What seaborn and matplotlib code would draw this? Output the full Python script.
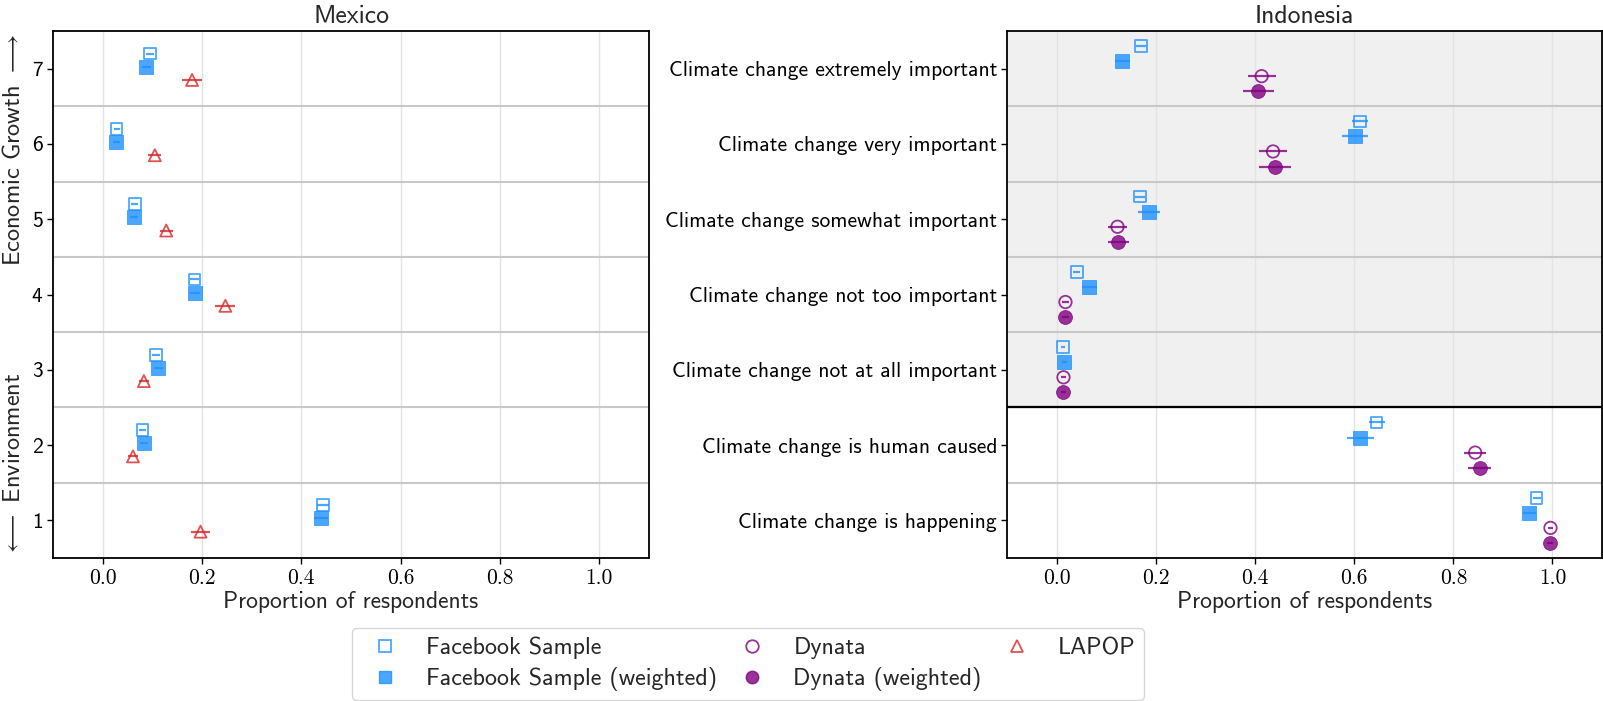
import numpy as np
import pandas as pd
import matplotlib
matplotlib.use("Agg")
import matplotlib.pyplot as plt
from matplotlib.lines import Line2D
import seaborn as sns

# ---------------- data ----------------
# Mexico: rows 7 (top, economic growth) ... 1 (bottom, environment)
mx_rows = [7, 6, 5, 4, 3, 2, 1]
mx_fb = [0.095, 0.028, 0.065, 0.185, 0.108, 0.080, 0.443]
mx_fb_err = [0.008, 0.006, 0.007, 0.009, 0.008, 0.007, 0.012]
mx_fbw = [0.088, 0.027, 0.064, 0.185, 0.112, 0.084, 0.440]
mx_fbw_err = [0.009, 0.007, 0.008, 0.010, 0.009, 0.008, 0.014]
mx_lapop = [0.180, 0.105, 0.128, 0.247, 0.083, 0.061, 0.197]
mx_lapop_err = [0.021, 0.013, 0.013, 0.020, 0.010, 0.010, 0.019]

# Indonesia
id_labels = ["Climate change extremely important",
             "Climate change very important",
             "Climate change somewhat important",
             "Climate change not too important",
             "Climate change not at all important",
             "Climate change is human caused",
             "Climate change is happening"]
id_rows = [7, 6, 5, 4, 3, 2, 1]
id_fb = [0.169, 0.612, 0.168, 0.040, 0.012, 0.645, 0.968]
id_fb_err = [0.010, 0.016, 0.010, 0.007, 0.004, 0.016, 0.008]
id_fbw = [0.132, 0.601, 0.186, 0.065, 0.015, 0.612, 0.953]
id_fbw_err = [0.016, 0.026, 0.022, 0.015, 0.006, 0.027, 0.013]
id_dyn = [0.413, 0.436, 0.122, 0.017, 0.013, 0.844, 0.996]
id_dyn_err = [0.028, 0.029, 0.019, 0.008, 0.006, 0.022, 0.006]
id_dynw = [0.406, 0.440, 0.124, 0.017, 0.013, 0.853, 0.995]
id_dynw_err = [0.031, 0.033, 0.022, 0.008, 0.006, 0.023, 0.006]

BLUE = "#1E90FF"
PURPLE = "#800080"
RED = "#D62728"
ALPHA = 0.8

sns.set_theme(style="white")
plt.rcParams["font.family"] = ["cmss10", "DejaVu Sans"]
plt.rcParams["mathtext.fontset"] = "cm"
plt.rcParams["axes.unicode_minus"] = False

fig = plt.figure(figsize=(16.03, 7.01), dpi=100)
ax1 = fig.add_axes([53 / 1603, 1 - 558 / 701, 596 / 1603, 527 / 701])
ax2 = fig.add_axes([1007.5 / 1603, 1 - 558 / 701, 594.5 / 1603, 527 / 701])


def series(ax, xs, errs, ys, color, marker, filled, size):
    ax.errorbar(xs, ys, xerr=errs, fmt="none", ecolor=color, elinewidth=1.6,
                alpha=ALPHA, zorder=3)
    df = pd.DataFrame({"x": xs, "y": ys})
    if filled:
        sns.scatterplot(data=df, x="x", y="y", ax=ax, marker=marker, s=size,
                        color=color, edgecolor=color, linewidth=0.6,
                        alpha=ALPHA, zorder=4, legend=False)
    else:
        sns.scatterplot(data=df, x="x", y="y", ax=ax, marker=marker, s=size,
                        color=color, facecolor="none", edgecolor=color,
                        linewidth=1.3, alpha=ALPHA, zorder=4, legend=False)


def style_axis(ax):
    ax.set_xlim(-0.1, 1.1)
    ax.set_ylim(0.5, 7.5)
    xt = [0.0, 0.2, 0.4, 0.6, 0.8, 1.0]
    ax.set_xticks(xt)
    ax.set_xticklabels([f"{v:.1f}" for v in xt], fontfamily="cmr10", fontsize=16)
    for v in xt:
        ax.axvline(v, color="#e3e3e3", lw=1.0, zorder=1)
    for h in [1.5, 2.5, 3.5, 4.5, 5.5, 6.5]:
        ax.axhline(h, color="#c8c8c8", lw=1.5, zorder=1)
    for s in ax.spines.values():
        s.set_color("black")
        s.set_linewidth(1.3)
    ax.tick_params(axis="both", direction="out", length=4, width=1, colors="black",
                   labelsize=15.5, bottom=True, left=True)
    ax.set_xlabel("Proportion of respondents", fontsize=17, labelpad=2)
    ax.set_ylabel("")


# Mexico
series(ax1, mx_fb, mx_fb_err, [r + 0.2 for r in mx_rows], BLUE, "s", False, 70)
series(ax1, mx_fbw, mx_fbw_err, [r + 0.025 for r in mx_rows], BLUE, "s", True, 90)
series(ax1, mx_lapop, mx_lapop_err, [r - 0.15 for r in mx_rows], RED, "^", False, 75)
style_axis(ax1)
ax1.set_yticks(mx_rows)
ax1.set_yticklabels([str(r) for r in mx_rows])
ax1.set_title("Mexico", fontsize=18.5, pad=6)

# Indonesia
ax2.axhspan(2.5, 7.5, color="#f0f0f0", zorder=0)
series(ax2, id_fb, id_fb_err, [r + 0.3 for r in id_rows], BLUE, "s", False, 70)
series(ax2, id_fbw, id_fbw_err, [r + 0.1 for r in id_rows], BLUE, "s", True, 90)
series(ax2, id_dyn, id_dyn_err, [r - 0.1 for r in id_rows], PURPLE, "o", False, 80)
series(ax2, id_dynw, id_dynw_err, [r - 0.3 for r in id_rows], PURPLE, "o", True, 100)
style_axis(ax2)
ax2.axhline(2.5, color="black", lw=1.6, zorder=2)
ax2.set_yticks(id_rows)
ax2.set_yticklabels(id_labels)
ax2.set_title("Indonesia", fontsize=18.5, pad=6)

# side labels
fig.text(14 / 1603, 1 - 34 / 701, r"Economic Growth $\longrightarrow$", rotation=90,
         ha="center", va="top", fontsize=17.5)
fig.text(14 / 1603, 1 - 557 / 701, r"$\longleftarrow$ Environment", rotation=90,
         ha="center", va="bottom", fontsize=17.5)

# legend
handles = [
    Line2D([], [], ls="none", marker="s", ms=9, mfc="none", mec=BLUE, mew=1.3, alpha=ALPHA),
    Line2D([], [], ls="none", marker="s", ms=9, mfc=BLUE, mec=BLUE, alpha=ALPHA),
    Line2D([], [], ls="none", marker="o", ms=9, mfc="none", mec=PURPLE, mew=1.3, alpha=ALPHA),
    Line2D([], [], ls="none", marker="o", ms=9, mfc=PURPLE, mec=PURPLE, alpha=ALPHA),
    Line2D([], [], ls="none", marker="^", ms=9, mfc="none", mec=RED, mew=1.3, alpha=ALPHA),
]
labels = ["Facebook Sample", "Facebook Sample (weighted)", "Dynata",
          "Dynata (weighted)", "LAPOP"]
leg = fig.legend(handles, labels, ncol=3, loc="lower right",
                 bbox_to_anchor=(1145 / 1603, 0.0), borderaxespad=0.05,
                 fontsize=17.3, frameon=True, fancybox=True,
                 borderpad=0.35, handlelength=2.1, handletextpad=0.66,
                 columnspacing=0.4, labelspacing=0.34)
leg.get_frame().set_edgecolor("#cccccc")

fig.savefig("out.png", dpi=100)
